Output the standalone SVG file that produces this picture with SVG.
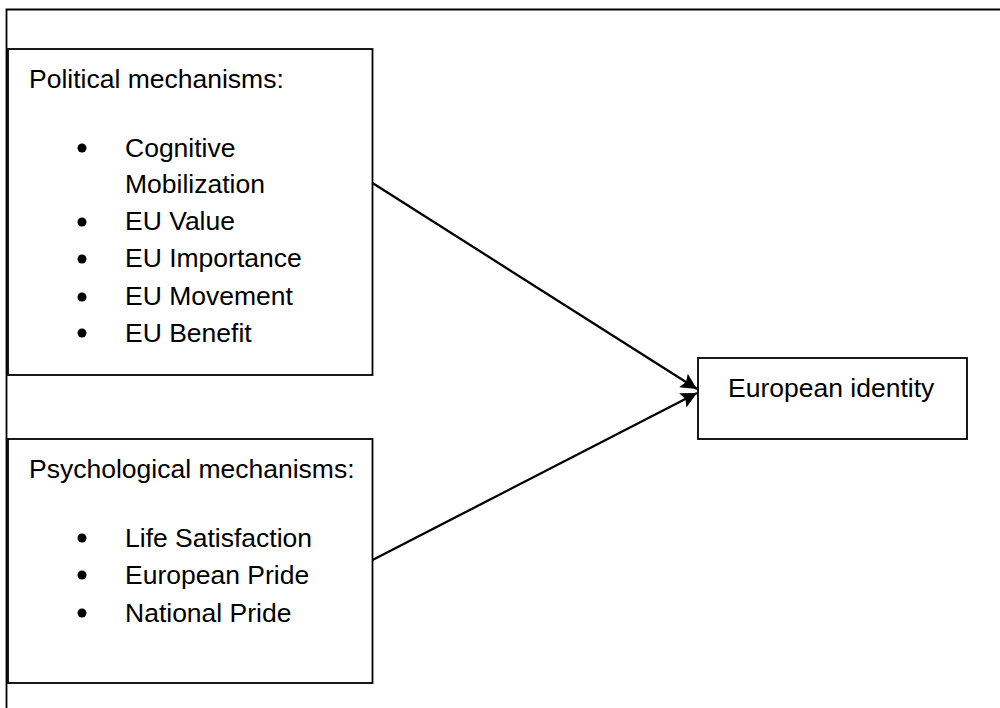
<svg xmlns="http://www.w3.org/2000/svg" width="1000" height="708" viewBox="0 0 1000 708">
  <style>
    .box { fill: #fff; stroke: #000; stroke-width: 1.8; }
    .frame { fill: none; stroke: #000; stroke-width: 1.8; }
    .t { font-family: "Liberation Sans", Arial, sans-serif; font-size: 26.5px; fill: #000; }
    .conn { stroke: #000; stroke-width: 2.3; fill: none; marker-end: url(#arrow); }
  </style>
  <defs>
    <marker id="arrow" markerUnits="userSpaceOnUse" markerWidth="18" markerHeight="18" refX="16" refY="9" orient="auto">
      <path d="M0,1 L16,9 L0,17 L3,9 Z" fill="#000"/>
    </marker>
  </defs>
  <rect width="1000" height="708" fill="#fff"/>
  <g id="frame">
    <path class="frame" d="M6.5,708 L6.5,9.5 L1000,9.5"/>
  </g>
  <g id="political">
    <rect class="box" x="8" y="49" width="364.5" height="326"/>
    <text class="t" x="29" y="88">Political mechanisms:</text>
    <circle cx="82" cy="148" r="4.5"/>
    <text class="t" x="125" y="157">Cognitive</text>
    <text class="t" x="125" y="193">Mobilization</text>
    <circle cx="82" cy="222" r="4.5"/>
    <text class="t" x="125" y="230">EU Value</text>
    <circle cx="82" cy="259" r="4.5"/>
    <text class="t" x="125" y="267">EU Importance</text>
    <circle cx="82" cy="297" r="4.5"/>
    <text class="t" x="125" y="305">EU Movement</text>
    <circle cx="82" cy="333" r="4.5"/>
    <text class="t" x="125" y="342">EU Benefit</text>
  </g>
  <g id="psychological">
    <rect class="box" x="8" y="439" width="364.5" height="244"/>
    <text class="t" x="29" y="478">Psychological mechanisms:</text>
    <circle cx="82" cy="538" r="4.5"/>
    <text class="t" x="125" y="547">Life Satisfaction</text>
    <circle cx="82" cy="575" r="4.5"/>
    <text class="t" x="125" y="584">European Pride</text>
    <circle cx="82" cy="613" r="4.5"/>
    <text class="t" x="125" y="622">National Pride</text>
  </g>
  <g id="european-identity">
    <rect class="box" x="698" y="358" width="269" height="81"/>
    <text class="t" x="728" y="397">European identity</text>
  </g>
  <g id="connectors">
    <line class="conn" x1="372.5" y1="183" x2="697" y2="389"/>
    <line class="conn" x1="372.5" y1="560" x2="697" y2="393"/>
  </g>
</svg>
